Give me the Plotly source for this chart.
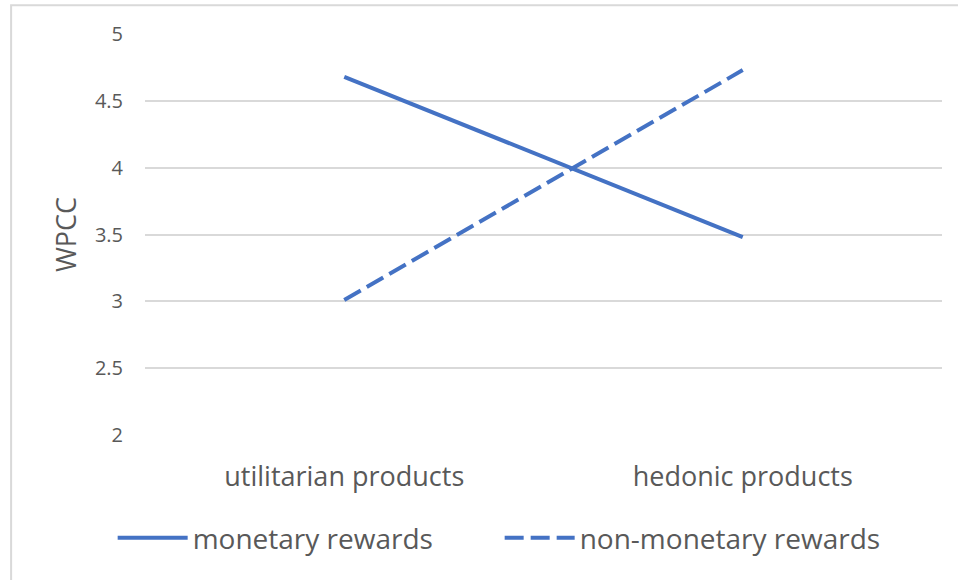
import plotly.graph_objects as go

categories = ["utilitarian products", "hedonic products"]
monetary = [4.68, 3.48]
non_monetary = [3.01, 4.73]
y_ticks = [2, 2.5, 3, 3.5, 4, 4.5, 5]
y_tick_text = ["2", "2.5", "3", "3.5", "4", "4.5", "5"]

blue = "#4472C4"
grey_text = "#595959"
grid = "#d9d9d9"
font = "Open Sans"

fig = go.Figure()
fig.add_trace(go.Scatter(
    x=categories, y=monetary, name="monetary rewards",
    mode="lines", line=dict(color=blue, width=4),
))
fig.add_trace(go.Scatter(
    x=categories, y=non_monetary, name="non-monetary rewards",
    mode="lines", line=dict(color=blue, width=4, dash="19px,7px"),
))

# outer chart border (only top and left visible in the crop)
fig.add_shape(type="rect", xref="paper", yref="paper",
              x0=-0.168, x1=1.2, y0=-0.5, y1=1.072,
              line=dict(color=grid, width=2), layer="below")

fig.update_layout(
    width=958, height=580,
    margin=dict(l=145, r=16, t=34, b=145),
    paper_bgcolor="white", plot_bgcolor="white",
    font=dict(family=font, color=grey_text),
    showlegend=True,
    legend=dict(orientation="h", x=0.445, xanchor="center", y=-0.257, yanchor="middle",
                font=dict(size=28, color=grey_text), itemwidth=70,
                entrywidth=302, entrywidthmode="pixels"),
)
fig.update_xaxes(
    type="category", range=[-0.5, 1.5], showgrid=False, zeroline=False, showline=False,
    ticks="outside", ticklen=18, tickcolor="rgba(0,0,0,0)",
    tickfont=dict(size=27, color=grey_text),
)
fig.update_yaxes(
    range=[2, 5], tickvals=y_ticks, ticktext=y_tick_text,
    showgrid=True, gridcolor=grid, gridwidth=1.5, zeroline=False, showline=False,
    ticks="outside", ticklen=17, tickcolor="rgba(0,0,0,0)",
    tickfont=dict(size=20, color=grey_text),
    title=dict(text="WPCC", font=dict(size=27, color=grey_text), standoff=10),
)

fig.write_html("out.html", config={"displayModeBar": False},
               post_script="document.body.style.margin='0px';")
